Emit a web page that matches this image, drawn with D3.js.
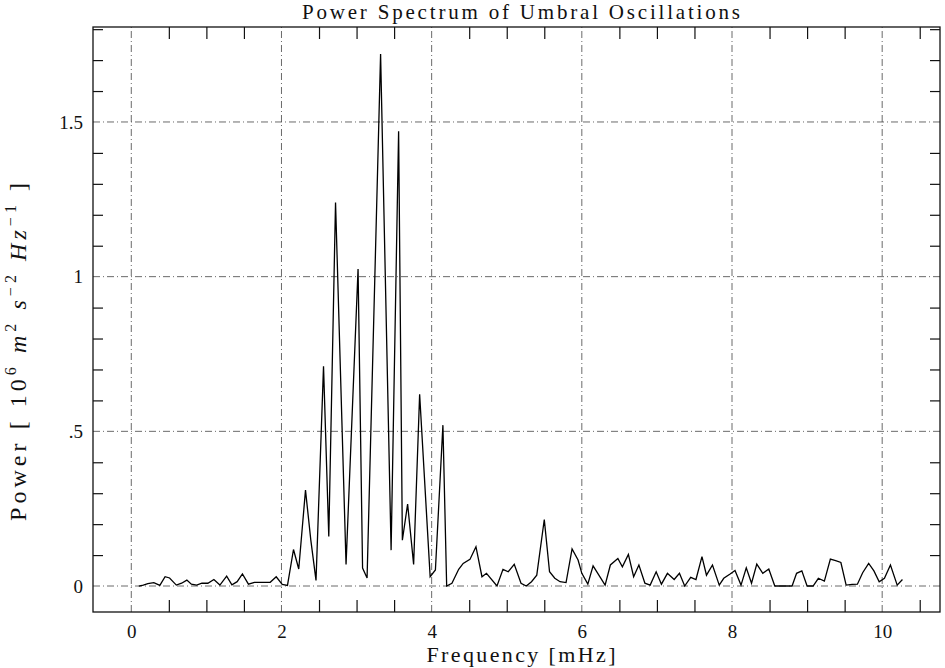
<!DOCTYPE html>
<html>
<head>
<meta charset="utf-8">
<script src="https://cdn.jsdelivr.net/npm/d3@7"></script>
<style>
body { margin: 0; background: #fff }
text { font-family: "Liberation Serif", "DejaVu Serif", serif; fill: #111 }
</style>
</head>
<body>
<svg id="chart" width="945" height="668"></svg>
<script>
// values: frequency [mHz] and power [10^6 m^2 s^-2 Hz^-1]
const freq = [
    0.10, 0.16, 0.22, 0.30, 0.38, 0.45, 0.51, 0.60, 0.67, 0.74, 0.80, 0.87, 0.94, 1.02, 1.10, 1.18,
    1.27, 1.34, 1.41, 1.48, 1.56, 1.64, 1.71, 1.78, 1.85, 1.93, 2.01, 2.08, 2.16, 2.23, 2.32, 2.39,
    2.46, 2.56, 2.63, 2.72, 2.86, 3.02, 3.08, 3.14, 3.32, 3.46, 3.56, 3.61, 3.68, 3.76, 3.84, 3.98,
    4.05, 4.15, 4.20, 4.27, 4.36, 4.42, 4.51, 4.59, 4.67, 4.73, 4.87, 4.95, 5.02, 5.10, 5.19, 5.26,
    5.33, 5.40, 5.50, 5.57, 5.64, 5.71, 5.79, 5.87, 5.95, 6.00, 6.08, 6.15, 6.31, 6.38, 6.48, 6.54,
    6.62, 6.69, 6.76, 6.84, 6.91, 6.99, 7.06, 7.14, 7.23, 7.30, 7.37, 7.45, 7.52, 7.60, 7.66, 7.74,
    7.83, 7.89, 7.97, 8.04, 8.12, 8.19, 8.26, 8.33, 8.41, 8.49, 8.57, 8.65, 8.73, 8.80, 8.86, 8.93,
    9.00, 9.08, 9.15, 9.23, 9.31, 9.38, 9.45, 9.52, 9.60, 9.67, 9.74, 9.82, 9.89, 9.96, 10.03, 10.11,
    10.20, 10.27
]
const power = [
    0.000, 0.003, 0.008, 0.011, 0.002, 0.030, 0.026, 0.003, 0.009, 0.019, 0.006, 0.003, 0.009, 0.009, 0.021, 0.003,
    0.032, 0.004, 0.014, 0.039, 0.006, 0.012, 0.012, 0.012, 0.012, 0.030, 0.005, 0.002, 0.118, 0.055, 0.310, 0.150,
    0.018, 0.710, 0.160, 1.240, 0.070, 1.025, 0.058, 0.026, 1.720, 0.116, 1.470, 0.148, 0.265, 0.070, 0.620, 0.030,
    0.052, 0.520, 0.000, 0.009, 0.054, 0.073, 0.086, 0.127, 0.030, 0.041, 0.000, 0.054, 0.046, 0.070, 0.009, 0.000,
    0.014, 0.035, 0.215, 0.046, 0.025, 0.014, 0.011, 0.120, 0.084, 0.041, 0.006, 0.065, 0.003, 0.068, 0.089, 0.062,
    0.102, 0.030, 0.068, 0.009, 0.003, 0.046, 0.006, 0.041, 0.021, 0.041, 0.000, 0.028, 0.021, 0.095, 0.035, 0.068,
    0.003, 0.025, 0.038, 0.050, 0.003, 0.059, 0.009, 0.071, 0.041, 0.055, 0.000, 0.000, 0.000, 0.000, 0.041, 0.049,
    0.000, 0.000, 0.025, 0.016, 0.087, 0.082, 0.076, 0.003, 0.005, 0.006, 0.043, 0.073, 0.049, 0.014, 0.025, 0.068,
    0.003, 0.021
]
const xTicks = [0, 2, 4, 6, 8, 10]
const yTicks = [0, 0.5, 1, 1.5]
const yTickLabels = ["0", ".5", "1", "1.5"]

const svg = d3.select("#chart")

const frame = { left: 93, right: 940, top: 27, bottom: 612 }

const x = d3.scaleLinear().domain([-0.51, 10.77]).range([frame.left, frame.right])
const y = d3.scaleLinear().domain([-0.084, 1.807]).range([frame.bottom, frame.top])

// grid, dash-dot
const grid = svg.append("g")
    .attr("stroke", "#444")
    .attr("stroke-width", 0.8)
    .attr("stroke-dasharray", "7,3,1,3")

grid.selectAll(".vgrid")
    .data(xTicks)
    .join("line")
    .attr("x1", d => x(d)).attr("x2", d => x(d))
    .attr("y1", frame.bottom).attr("y2", frame.top)

grid.selectAll(".hgrid")
    .data(yTicks)
    .join("line")
    .attr("class", "hgrid")
    .attr("x1", frame.left).attr("x2", frame.right)
    .attr("y1", d => y(d)).attr("y2", d => y(d))

// minor ticks on all four sides, pointing inward
const xMinor = d3.range(1, 22).map(i => i / 2).filter(v => v % 2 !== 0)
const yMinor = d3.range(1, 19).map(i => i / 10).filter(v => Math.round(v * 10) % 5 !== 0)

function tickStyle(g) {
    g.select(".domain").remove()
    g.selectAll(".tick line").attr("stroke", "#111").attr("stroke-width", 1.2)
}

svg.append("g")
    .attr("transform", "translate(0," + frame.bottom + ")")
    .call(d3.axisTop(x).tickValues(xMinor).tickSize(12).tickFormat(""))
    .call(tickStyle)

svg.append("g")
    .attr("transform", "translate(0," + frame.top + ")")
    .call(d3.axisBottom(x).tickValues(xMinor).tickSize(12).tickFormat(""))
    .call(tickStyle)

svg.append("g")
    .attr("transform", "translate(" + frame.left + ",0)")
    .call(d3.axisRight(y).tickValues(yMinor).tickSize(10).tickFormat(""))
    .call(tickStyle)

svg.append("g")
    .attr("transform", "translate(" + frame.right + ",0)")
    .call(d3.axisLeft(y).tickValues(yMinor).tickSize(10).tickFormat(""))
    .call(tickStyle)

// tick labels
const xLabels = svg.append("g")
    .attr("transform", "translate(0," + frame.bottom + ")")
    .call(d3.axisBottom(x).tickValues(xTicks).tickSize(0).tickPadding(13).tickFormat(d3.format("d")))
xLabels.select(".domain").remove()
xLabels.selectAll("text")
    .style("font-family", "'Liberation Serif', serif")
    .style("font-size", "19px")
    .attr("fill", "#111")

const yLabels = svg.append("g")
    .attr("transform", "translate(" + frame.left + ",0)")
    .call(d3.axisLeft(y).tickValues(yTicks).tickSize(0).tickPadding(10).tickFormat((d, i) => yTickLabels[i]))
yLabels.select(".domain").remove()
yLabels.selectAll("text")
    .style("font-family", "'Liberation Serif', serif")
    .style("font-size", "19px")
    .attr("fill", "#111")

// frame
svg.append("rect")
    .attr("x", frame.left).attr("y", frame.top)
    .attr("width", frame.right - frame.left)
    .attr("height", frame.bottom - frame.top)
    .attr("fill", "none")
    .attr("stroke", "#111")
    .attr("stroke-width", 1.3)

// spectrum
const line = d3.line()
    .x(d => x(d[0]))
    .y(d => y(d[1]))

svg.append("path")
    .datum(d3.zip(freq, power))
    .attr("d", line)
    .attr("fill", "none")
    .attr("stroke", "#000")
    .attr("stroke-width", 1.3)
    .attr("stroke-linejoin", "miter")

// titles
svg.append("text")
    .attr("x", 521).attr("y", 19)
    .attr("text-anchor", "middle")
    .attr("font-size", 21)
    .attr("textLength", 438)
    .attr("lengthAdjust", "spacing")
    .text("Power Spectrum of Umbral Oscillations")

svg.append("text")
    .attr("x", 521).attr("y", 662)
    .attr("text-anchor", "middle")
    .attr("font-size", 22)
    .attr("textLength", 189)
    .attr("lengthAdjust", "spacing")
    .text("Frequency [mHz]")

const yTitle = svg.append("text")
    .attr("transform", "translate(26,352) rotate(-90)")
    .attr("text-anchor", "middle")
    .attr("font-size", 24)
    .attr("textLength", 338)
    .attr("lengthAdjust", "spacing")

yTitle.append("tspan").text("Power [ 10")
yTitle.append("tspan").attr("dy", -10).attr("font-size", 16).text("6")
yTitle.append("tspan").attr("dy", 10).attr("font-style", "italic").text(" m")
yTitle.append("tspan").attr("dy", -10).attr("font-size", 16).text("2")
yTitle.append("tspan").attr("dy", 10).attr("font-style", "italic").text(" s")
yTitle.append("tspan").attr("dy", -10).attr("font-size", 16).text("\u22122")
yTitle.append("tspan").attr("dy", 10).attr("font-style", "italic").text(" Hz")
yTitle.append("tspan").attr("dy", -10).attr("font-size", 16).text("\u22121")
yTitle.append("tspan").attr("dy", 10).text(" ]")
</script>
</body>
</html>
